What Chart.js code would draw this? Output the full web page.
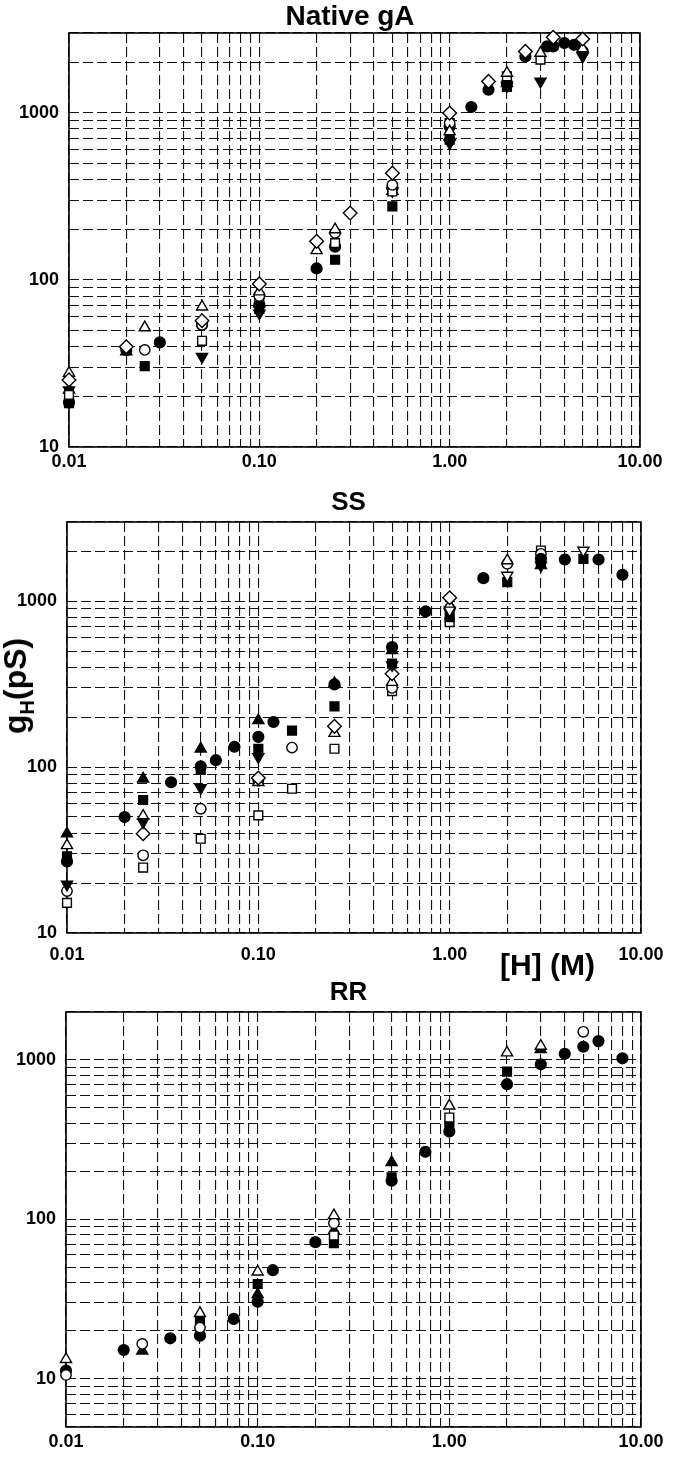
<!DOCTYPE html>
<html><head><meta charset="utf-8">
<script src="https://cdn.jsdelivr.net/npm/chart.js@4.4.1/dist/chart.umd.min.js"></script>
<style>
html,body{margin:0;padding:0;background:#fff;}
body{width:678px;height:1458px;position:relative;overflow:hidden;font-family:"Liberation Sans",Arial,sans-serif;}
canvas{position:absolute;left:0;}
.t{position:absolute;font-weight:bold;color:#000;white-space:nowrap;line-height:1;z-index:5;}
</style></head><body>
<div class="t" id="t1" style="font-size:28px;left:0;width:700px;text-align:center;top:2px;">Native gA</div>
<div class="t" id="t2" style="font-size:26px;left:0;width:697px;text-align:center;top:488px;">SS</div>
<div class="t" id="t3" style="font-size:26px;left:0;width:697px;text-align:center;top:978px;">RR</div>
<div class="t" id="ylab" style="font-size:32px;left:15px;top:686px;transform:translate(-50%,-50%) rotate(-90deg);">g<span style="font-size:20px;position:relative;top:8px;">H</span>(pS)</div>
<div class="t" id="xlab" style="font-size:30px;left:500px;top:950px;">[H] (M)</div>
<canvas id="c1"></canvas>
<canvas id="c2"></canvas>
<canvas id="c3"></canvas>
<script>
// ---- axis ticks ----
const xDecades = [0.01, 0.1, 1, 10];
const xTickLabels = ['0.01', '0.10', '1.00', '10.00'];
const yDecades = [10, 100, 1000];
const yTickLabels = ['10', '100', '1000'];

// ---- Native gA : [H] (M), gH (pS) ----
const gA_filledCircle = [[0.01,18.5],[0.02,38],[0.03,42.3],[0.05,53.8],[0.1,70.8],[0.2,117],[0.25,158],[0.5,354],[1,828],[1.3,1082],[1.6,1373],[2,1506],[2.5,2174],[3.25,2494],[3.5,2494],[4,2614],[4.5,2550],[5,2330]];
const gA_openCircle = [[0.025,38.1],[0.05,53.8],[0.1,80],[0.25,191],[0.5,370],[1,867]];
const gA_filledTriangle = [[0.01,22],[0.02,37.2],[0.1,72],[0.5,340],[1,721],[2,1500]];
const gA_openTriangle = [[0.01,27.7],[0.025,51.8],[0.05,69],[0.1,85],[0.2,150],[0.25,200],[1,773],[2,1729],[3,2277],[5,2420]];
const gA_filledInvTriangle = [[0.01,21.9],[0.05,34.7],[0.1,63.1],[0.5,340],[1,658],[2,1450],[3,1540],[5,2174]];
const gA_filledSquare = [[0.01,18.3],[0.025,30.5],[0.1,67],[0.25,132],[0.5,275],[1,689],[2,1425]];
const gA_openSquare = [[0.01,20.5],[0.05,43.2],[0.1,79],[0.25,166],[0.5,338],[1,867],[2,1650],[3,2077]];
const gA_diamond = [[0.01,25.2],[0.02,39.8],[0.05,57],[0.1,94.6],[0.2,170],[0.3,251],[0.5,435],[1,995],[1.6,1540],[2.5,2328],[3.5,2825],[5,2762]];

// ---- SS ----
const ss_filledCircle = [[0.01,27],[0.02,50],[0.035,81],[0.05,101],[0.06,110],[0.075,132.6],[0.1,152],[0.12,187],[0.25,315],[0.5,528],[0.75,867],[1.5,1376],[3,1800],[4,1783],[6,1783],[8,1442]];
const ss_openCircle = [[0.01,17.9],[0.025,29.4],[0.05,56],[0.1,83],[0.15,131],[0.5,300],[1,900],[2,1680],[3,1929]];
const ss_filledTriangle = [[0.01,39.7],[0.025,85],[0.05,129],[0.1,191],[0.25,320],[0.5,505],[3,1641]];
const ss_openTriangle = [[0.01,33.7],[0.025,50.7],[0.1,81],[0.25,160],[0.5,325],[1,942],[2,1758]];
const ss_filledInvTriangle = [[0.01,19.6],[0.025,46.7],[0.05,75],[0.1,115],[0.5,412],[3,1641]];
const ss_openInvTriangle = [[1,880],[2,1428],[5,2020]];
const ss_filledSquare = [[0.01,29],[0.025,63.3],[0.05,96],[0.1,129],[0.15,166],[0.25,232],[0.5,420],[1,801],[2,1301],[3,1717],[5,1800]];
const ss_openSquare = [[0.01,15.2],[0.025,24.8],[0.05,37],[0.1,51.2],[0.15,74],[0.25,129],[0.5,287],[1,747],[3,2020]];
const ss_diamond = [[0.025,39.7],[0.1,86],[0.25,176],[0.5,365],[1,1048]];

// ---- RR ----
const rr_filledCircle = [[0.01,11.3],[0.02,15.2],[0.035,18],[0.05,18.7],[0.075,23.8],[0.1,30.5],[0.12,48.1],[0.2,72.1],[0.5,175],[0.75,266],[1,356],[2,705],[3,940],[4,1094],[5,1211],[6,1314],[8,1025]];
const rr_openCircle = [[0.01,10.6],[0.025,16.6],[0.05,21],[0.25,94.8],[5,1503]];
const rr_filledTriangle = [[0.025,15],[0.1,33.9],[0.25,85],[0.5,228],[3,1166]];
const rr_openTriangle = [[0.01,13.3],[0.05,25.8],[0.1,47],[0.25,106],[1,516],[2,1111],[3,1223]];
const rr_filledSquare = [[0.05,22.9],[0.1,39.4],[0.25,71.1],[0.5,184],[1,387],[2,845]];
const rr_openSquare = [[0.25,79.4],[1,436]];

// ---- marker styles ----
const MARK = {
  openSquare:        {style:'rect', fill:false, r:6.2, rot:0},
  openCircle:        {style:'circle', fill:false, r:5.2, rot:0},
  openTriangle:      {style:'triangle', fill:false, r:6.4, rot:0},
  openInvTriangle:   {style:'triangle', fill:false, r:6.4, rot:180},
  filledSquare:      {style:'rect', fill:true, r:6.2, rot:0},
  filledTriangle:    {style:'triangle', fill:true, r:6.4, rot:0},
  filledInvTriangle: {style:'triangle', fill:true, r:6.4, rot:180},
  filledCircle:      {style:'circle', fill:true, r:5.4, rot:0},
  diamond:           {style:'rectRot', fill:false, r:6.8, rot:0}
};

function gridValues(min, max) {
  const out = [];
  for (let e = Math.floor(Math.log10(min)); e <= Math.ceil(Math.log10(max)); e++) {
    for (let m = 1; m <= 9; m++) {
      const v = parseFloat((m * Math.pow(10, e)).toPrecision(6));
      if (v >= min * 0.9999 && v <= max * 1.0001) out.push(v);
    }
  }
  return out;
}
function labelFor(v, decades, labels) {
  const i = decades.findIndex(d => Math.abs(d - v) / d < 1e-6);
  return i >= 0 ? labels[i] : '';
}

const framePlugin = {
  id: 'frame',
  beforeDatasetsDraw(chart) {
    const a = chart.chartArea, c = chart.ctx;
    c.save(); c.lineWidth = 1.6; c.strokeStyle = '#000'; c.setLineDash([]);
    c.strokeRect(a.left, a.top, a.right - a.left, a.bottom - a.top);
    c.restore();
  }
};

const FONT = {family: '"Liberation Sans", Arial, sans-serif', size: 18, weight: 'bold'};

function makeChart(id, area, yMin, yMax, series, xPad) {
  const cv = document.getElementById(id);
  const H = 30 + (area.b - area.t) + 42;
  cv.width = 678; cv.height = H;
  cv.style.width = '678px'; cv.style.height = H + 'px';
  cv.style.top = (area.t - 30) + 'px';
  const datasets = series.map(([key, pts], idx) => {
    const m = MARK[key];
    return {
      data: pts.map(p => ({x: p[0], y: p[1]})),
      pointStyle: m.style, pointRotation: m.rot, pointRadius: m.r,
      pointBackgroundColor: m.fill ? '#000' : '#fff', pointBorderColor: '#000',
      pointBorderWidth: 1.4, showLine: false, clip: false, order: series.length - idx
    };
  });
  return new Chart(cv, {
    type: 'scatter',
    data: {datasets},
    options: {
      responsive: false, animation: false, devicePixelRatio: 1,
      layout: {padding: {left: 0, right: 678 - area.r, top: 30, bottom: 0}},
      plugins: {legend: {display: false}, tooltip: {enabled: false}, title: {display: false}},
      scales: {
        x: {
          type: 'logarithmic', min: 0.01, max: 10,
          afterBuildTicks: s => { s.ticks = gridValues(0.01, 10).map(v => ({value: v})); },
          afterFit: s => { s.height = 42; },
          ticks: {autoSkip: false, maxRotation: 0, minRotation: 0, padding: xPad, color: '#000', font: FONT,
                  callback: v => labelFor(v, xDecades, xTickLabels)},
          grid: {color: '#111', lineWidth: 1.1, drawTicks: false},
          border: {display: false, dash: [10, 4]}
        },
        y: {
          type: 'logarithmic', min: yMin, max: yMax,
          afterBuildTicks: s => { s.ticks = gridValues(yMin, yMax).map(v => ({value: v})); },
          afterFit: s => { s.width = area.l; },
          ticks: {autoSkip: false, padding: 10, color: '#000', font: FONT,
                  callback: v => labelFor(v, yDecades, yTickLabels)},
          grid: {color: '#111', lineWidth: 1.1, drawTicks: false},
          border: {display: false, dash: [10, 4]}
        }
      }
    },
    plugins: [framePlugin]
  });
}

makeChart('c1', {l: 69, r: 640, t: 33, b: 447}, 10, 3000, [
  ['filledCircle', gA_filledCircle], ['filledSquare', gA_filledSquare], ['filledInvTriangle', gA_filledInvTriangle],
  ['filledTriangle', gA_filledTriangle], ['openSquare', gA_openSquare], ['openCircle', gA_openCircle],
  ['openTriangle', gA_openTriangle], ['diamond', gA_diamond]
], 4);

makeChart('c2', {l: 67, r: 641, t: 522, b: 933}, 10, 3000, [
  ['openSquare', ss_openSquare], ['openCircle', ss_openCircle], ['openTriangle', ss_openTriangle],
  ['diamond', ss_diamond], ['filledSquare', ss_filledSquare], ['filledInvTriangle', ss_filledInvTriangle],
  ['filledTriangle', ss_filledTriangle], ['filledCircle', ss_filledCircle], ['openInvTriangle', ss_openInvTriangle]
], 11);

makeChart('c3', {l: 66, r: 641, t: 1012, b: 1427}, 5, 2000, [
  ['filledCircle', rr_filledCircle], ['filledSquare', rr_filledSquare], ['filledTriangle', rr_filledTriangle],
  ['openSquare', rr_openSquare], ['openCircle', rr_openCircle], ['openTriangle', rr_openTriangle]
], 4);
</script>
</body></html>
